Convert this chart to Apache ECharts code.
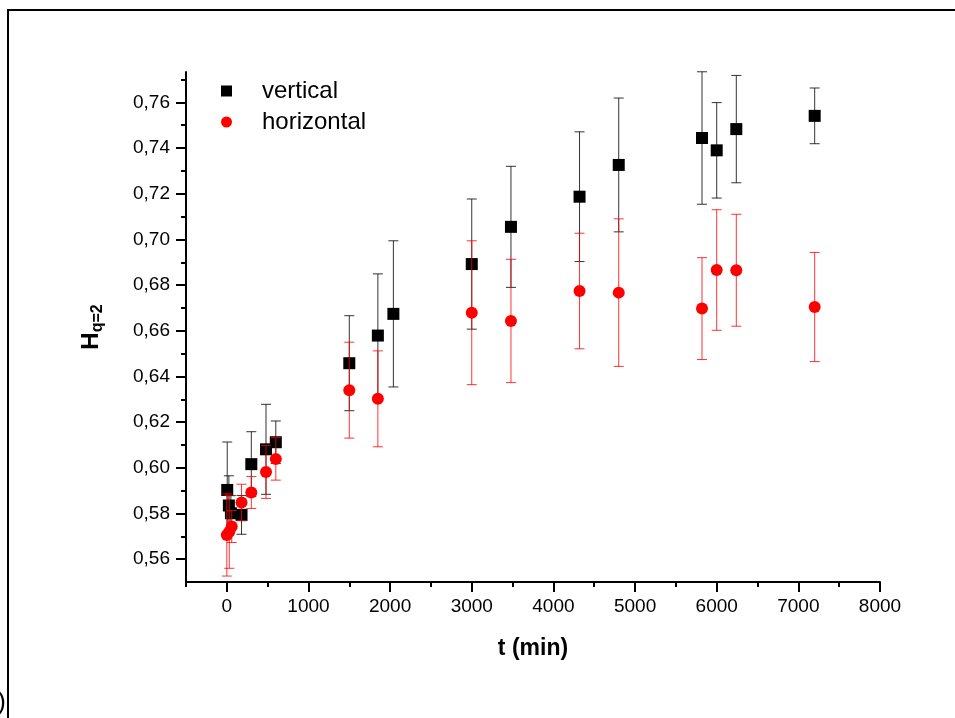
<!DOCTYPE html>
<html>
<head>
<meta charset="utf-8">
<script src="https://cdn.jsdelivr.net/npm/echarts@6/dist/echarts.min.js"></script>
<style>
  html, body { margin: 0; padding: 0; background: #fff; }
  #chart { width: 955px; height: 718px; }
</style>
</head>
<body>
<div id="chart"></div>
<script>
// Sampling times (min), generalized Hurst exponent H(q=2) and its error
const tVertical = [5, 25, 50, 180, 300, 480, 600, 1500, 1850, 2040, 3000, 3480, 4320, 4800, 5820, 6000, 6240, 7200];
const hVertical = [0.5903, 0.5835, 0.5801, 0.5794, 0.6016, 0.6081, 0.6112, 0.6458, 0.6579, 0.6674, 0.6892, 0.7055, 0.7187, 0.7326, 0.7444, 0.7390, 0.7483, 0.7541];
const errVertical = [0.021, 0.013, 0.0077, 0.0085, 0.0142, 0.0197, 0.0093, 0.0208, 0.027, 0.032, 0.0285, 0.0265, 0.0284, 0.0293, 0.029, 0.0209, 0.0235, 0.0122];

const tHorizontal = [0, 30, 60, 180, 300, 480, 600, 1500, 1850, 3000, 3480, 4320, 4800, 5820, 6000, 6240, 7200];
const hHorizontal = [0.5706, 0.5720, 0.5743, 0.5848, 0.5892, 0.5982, 0.6039, 0.6340, 0.6302, 0.6679, 0.6643, 0.6774, 0.6767, 0.6697, 0.6866, 0.6865, 0.6704];
const errHorizontal = [0.018, 0.016, 0.007, 0.008, 0.007, 0.0116, 0.0093, 0.021, 0.021, 0.0315, 0.027, 0.0253, 0.0323, 0.0223, 0.0264, 0.0245, 0.0239];

// Axis ticks
const xMajorTicks = [0, 1000, 2000, 3000, 4000, 5000, 6000, 7000, 8000];
const xMinorTicks = [-500, 500, 1500, 2500, 3500, 4500, 5500, 6500, 7500];
const yMajorTicks = [0.56, 0.58, 0.60, 0.62, 0.64, 0.66, 0.68, 0.70, 0.72, 0.74, 0.76];
const yMinorTicks = [0.57, 0.59, 0.61, 0.63, 0.65, 0.67, 0.69, 0.71, 0.73, 0.75, 0.77];

const FONT = '"Liberation Sans", Arial, Helvetica, sans-serif';
const X_MIN = -500, X_MAX = 8000, Y_MIN = 0.55, Y_MAX = 0.7733;

const pairs = (xs, ys) => xs.map((x, i) => [x, ys[i]]);
const ranges = (xs, ys, es) => xs.map((x, i) => [x, ys[i] - es[i], ys[i] + es[i]]);

// Vertical error bar with end caps, placed through the cartesian scales
function errorBar(color) {
  return function (params, api) {
    const x = api.value(0);
    const lo = api.coord([x, api.value(1)]);
    const hi = api.coord([x, api.value(2)]);
    const half = 5;
    const style = { stroke: color, lineWidth: 1, fill: null };
    return {
      type: 'group',
      children: [
        { type: 'line', shape: { x1: lo[0], y1: lo[1], x2: hi[0], y2: hi[1] }, style: style },
        { type: 'line', shape: { x1: lo[0] - half, y1: lo[1], x2: lo[0] + half, y2: lo[1] }, style: style },
        { type: 'line', shape: { x1: hi[0] - half, y1: hi[1], x2: hi[0] + half, y2: hi[1] }, style: style }
      ]
    };
  };
}

const axisLine = { show: true, onZero: false, lineStyle: { color: '#000', width: 2 } };
const tickStyle = { color: '#000', width: 2 };

const chart = echarts.init(document.getElementById('chart'), null, { renderer: 'canvas' });
chart.setOption({
  animation: false,
  backgroundColor: '#fff',
  textStyle: { fontFamily: FONT },
  grid: { left: 186, right: 75, top: 72, bottom: 136, containLabel: false },
  graphic: [
    {
      type: 'rect', z: -10, silent: true,
      shape: { x: 8, y: 10, width: 1000, height: 800 },
      style: { fill: null, stroke: '#000', lineWidth: 2 }
    },
    {
      type: 'text', silent: true,
      style: { text: ')', x: 6, y: 716, align: 'right', verticalAlign: 'bottom', fontSize: 26, fontFamily: FONT, fill: '#000' }
    }
  ],
  legend: {
    data: [{ name: 'vertical', icon: 'rect' }, { name: 'horizontal', icon: 'circle' }],
    orient: 'vertical',
    left: 221,
    top: 79,
    padding: 0,
    itemWidth: 11,
    itemHeight: 11,
    itemGap: 7,
    textStyle: { fontSize: 24, color: '#000', fontFamily: FONT, padding: [0, 0, 0, 25] }
  },
  xAxis: [
    {
      type: 'value', min: X_MIN, max: X_MAX, position: 'bottom',
      axisLine: axisLine,
      axisTick: { show: true, customValues: xMajorTicks, length: 10, lineStyle: tickStyle },
      axisLabel: {
        customValues: xMajorTicks, margin: 15, fontSize: 19, color: '#000', fontFamily: FONT,
        formatter: v => String(v)
      },
      splitLine: { show: false },
      name: 't (min)', nameLocation: 'middle', nameGap: 55,
      nameTextStyle: { fontSize: 23, fontWeight: 'bold', color: '#000', fontFamily: FONT }
    },
    {
      type: 'value', min: X_MIN, max: X_MAX, position: 'bottom',
      axisLine: { show: false, onZero: false },
      axisTick: { show: true, customValues: xMinorTicks, length: 5, lineStyle: tickStyle },
      axisLabel: { show: false },
      splitLine: { show: false }
    }
  ],
  yAxis: [
    {
      type: 'value', min: Y_MIN, max: Y_MAX, position: 'left',
      axisLine: axisLine,
      axisTick: { show: true, customValues: yMajorTicks, length: 10, lineStyle: tickStyle },
      axisLabel: {
        customValues: yMajorTicks, margin: 16, fontSize: 19, color: '#000', fontFamily: FONT,
        formatter: v => v.toFixed(2).replace('.', ',')
      },
      splitLine: { show: false },
      name: '{h|H}{s|q=2}', nameLocation: 'middle', nameRotate: 90, nameGap: 80,
      nameTextStyle: {
        color: '#000', fontFamily: FONT,
        rich: {
          h: { fontSize: 24, fontWeight: 'bold', fontFamily: FONT, color: '#000', lineHeight: 30, verticalAlign: 'middle' },
          s: { fontSize: 16, fontWeight: 'bold', fontFamily: FONT, color: '#000', lineHeight: 30, verticalAlign: 'bottom' }
        }
      }
    },
    {
      type: 'value', min: Y_MIN, max: Y_MAX, position: 'left',
      axisLine: { show: false, onZero: false },
      axisTick: { show: true, customValues: yMinorTicks, length: 5, lineStyle: tickStyle },
      axisLabel: { show: false },
      splitLine: { show: false }
    }
  ],
  series: [
    {
      name: 'vertical-err', type: 'custom', renderItem: errorBar('rgba(0,0,0,0.8)'),
      data: ranges(tVertical, hVertical, errVertical),
      encode: { x: 0, y: [1, 2] }, z: 1, silent: true
    },
    {
      name: 'vertical', type: 'scatter', symbol: 'rect', symbolSize: 12,
      itemStyle: { color: '#000', opacity: 1 },
      data: pairs(tVertical, hVertical), z: 2
    },
    {
      name: 'horizontal-err', type: 'custom', renderItem: errorBar('rgba(255,0,0,0.8)'),
      data: ranges(tHorizontal, hHorizontal, errHorizontal),
      encode: { x: 0, y: [1, 2] }, z: 3, silent: true
    },
    {
      name: 'horizontal', type: 'scatter', symbol: 'circle', symbolSize: 12,
      itemStyle: { color: '#ff0000', opacity: 1 },
      data: pairs(tHorizontal, hHorizontal), z: 4
    }
  ]
});
</script>
</body>
</html>
